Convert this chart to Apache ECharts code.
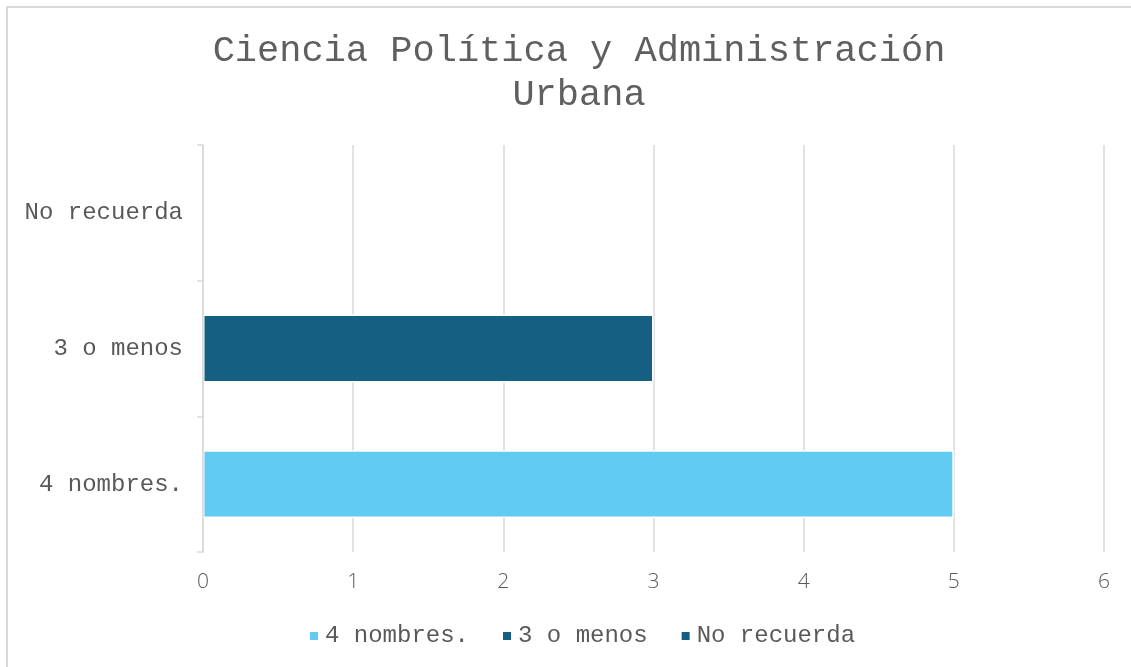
<!DOCTYPE html>
<html>
<head>
<meta charset="utf-8">
<script src="https://cdn.jsdelivr.net/npm/echarts@6/dist/echarts.min.js"></script>
<style>
  html, body { margin: 0; padding: 0; background: #fff; }
  #main { width: 1131px; height: 667px; }
</style>
</head>
<body>
<div id="main"></div>
<script>
// datos
let categories = ['4 nombres.', '3 o menos', 'No recuerda'];
let values = [5, 3, 0];
let colors = ['#61CBF3', '#156082', '#156082'];
let xTicks = [0, 1, 2, 3, 4, 5, 6];

let mono = '"Liberation Mono", "Courier New", monospace';
let sans = '"Open Sans", "Noto Sans", sans-serif';

var myChart = echarts.init(document.getElementById('main'));

// una serie por categoria para que la leyenda tenga 3 entradas
let series = categories.map(function (name, i) {
    return {
        name: name,
        type: 'bar',
        stack: 'total',
        barCategoryGap: '50%',
        itemStyle: {
            color: colors[i],
            borderColor: '#fff'
        },
        data: values.map(function (v, j) {
            if (j !== i) return null;
            // sin borde en la barra de valor 0 para no tapar el eje
            return { value: v, itemStyle: { borderWidth: v ? 1.5 : 0 } };
        })
    };
});

let option = {
    animation: false,
    color: colors,
    graphic: [{
        type: 'rect',
        shape: { x: 7, y: 7, width: 1200, height: 700 },
        style: { fill: 'none', stroke: '#d9d9d9', lineWidth: 2 },
        silent: true
    }],
    title: {
        text: 'Ciencia Política y Administración\nUrbana',
        left: 574,
        textAlign: 'center',
        top: 24,
        textStyle: {
            fontFamily: mono,
            fontSize: 37,
            fontWeight: 'normal',
            color: '#5f5f5f',
            lineHeight: 44
        }
    },
    legend: {
        data: categories,
        left: 305,
        top: 619,
        icon: 'rect',
        itemWidth: 8,
        itemHeight: 8,
        itemGap: 34,
        textStyle: {
            fontFamily: mono,
            fontSize: 24,
            color: '#595959',
            padding: [0, 0, 0, 2]
        }
    },
    grid: {
        left: 203,
        right: 27,
        top: 145,
        bottom: 115
    },
    xAxis: {
        type: 'value',
        min: xTicks[0],
        max: xTicks[xTicks.length - 1],
        interval: 1,
        axisLine: { show: false },
        axisTick: { show: false },
        splitLine: { lineStyle: { color: '#d9d9d9', width: 1.5 } },
        axisLabel: {
            margin: 20,
            fontFamily: sans,
            fontWeight: 300,
            fontSize: 21,
            color: '#595959'
        }
    },
    yAxis: {
        type: 'category',
        data: categories,
        z: 3,
        axisLine: { show: true, lineStyle: { color: '#d9d9d9', width: 1.5 } },
        axisTick: { show: true, length: 6, lineStyle: { color: '#d9d9d9', width: 1.5 } },
        axisLabel: {
            margin: 20,
            fontFamily: mono,
            fontSize: 24,
            color: '#595959'
        }
    },
    series: series
};

myChart.setOption(option);
</script>
</body>
</html>
